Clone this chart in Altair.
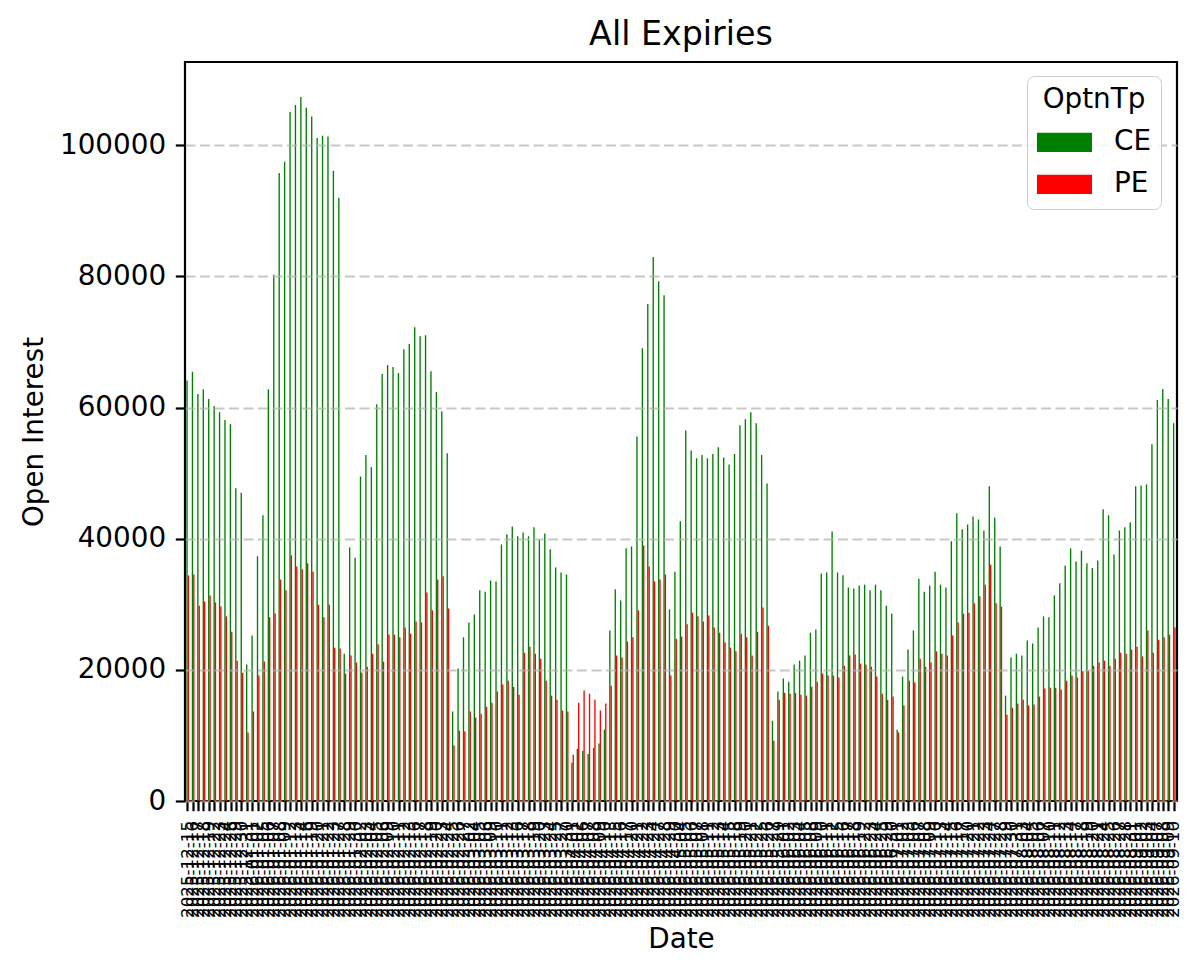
import altair as alt
import pandas as pd

# trading days shown on the x axis, grouped by month
MONTH_DAYS = {
    "2025-12": [15, 16, 17, 18, 19, 22, 23, 24, 26, 29, 30, 31],
    "2026-01": [1, 2, 5, 6, 7, 8, 9, 12, 13, 14, 16, 19, 20, 21, 22, 23, 27, 28, 29, 30],
    "2026-02": [2, 3, 4, 5, 6, 9, 10, 11, 12, 13, 16, 17, 18, 19, 20, 23, 24, 25, 26, 27],
    "2026-03": [2, 4, 5, 6, 9, 10, 11, 12, 13, 16, 17, 18, 19, 20, 23, 24, 25, 27, 30],
    "2026-04": [1, 2, 6, 7, 8, 9, 10, 13, 15, 16, 17, 20, 21, 22, 23, 24, 27, 28, 29, 30],
    "2026-05": [4, 5, 6, 7, 8, 11, 12, 13, 14, 15, 18, 19, 20, 21, 22, 25, 26, 27, 29],
    "2026-06": [1, 2, 3, 4, 5, 8, 9, 10, 11, 12, 15, 16, 17, 18, 19, 22, 23, 24, 25, 29, 30],
    "2026-07": [1, 2, 3, 6, 7, 8, 9, 10, 13, 14, 15, 16, 17, 20, 21, 22, 23, 24, 27, 28, 29, 30, 31],
    "2026-08": [3, 4, 5, 6, 7, 10, 11, 12, 13, 14, 17, 18, 19, 20, 21, 24, 25, 26, 27, 28, 31],
    "2026-09": [1, 2, 3, 4, 7, 8, 9, 10],
}

CE = [
    64130, 65480, 62070, 62780, 61290, 60220, 59300, 58090, 57450, 47710,
    47000, 20830, 25240, 37330, 43580, 62780, 80270, 95770, 97480, 105080,
    106150, 107360, 105720, 104370, 101100, 101460, 101320, 96130, 92000, 22470,
    38680, 37110, 49480, 52760, 50910, 60500, 65130, 66480, 66190, 65270,
    68900, 69680, 72240, 70890, 71030, 65550, 62360, 59440, 53040, 13650,
    20190, 24960, 27230, 28440, 32140, 31920, 33630, 33490, 39100, 40670,
    41880, 40380, 40950, 40380, 41730, 39810, 40810, 38390, 35620, 34840,
    34550, 5830, 7960, 7680, 7180, 8110, 8750, 10880, 26020, 32280,
    30570, 38540, 38820, 55600, 69040, 75790, 82970, 79280, 77140, 29220,
    34980, 42660, 56520, 53470, 52260, 52760, 52260, 52900, 53960, 52400,
    51330, 52900, 57310, 58230, 59300, 57590, 52760, 48420, 12230, 16710,
    18700, 18200, 20830, 21400, 22180, 25670, 26160, 34700, 34840, 41100,
    34840, 34410, 32560, 32420, 32850, 32990, 32140, 32990, 32140, 29790,
    28580, 10880, 18980, 23110, 26020, 33910, 31920, 32850, 34980, 32990,
    32560, 39600, 43870, 41450, 42160, 43370, 42940, 41240, 47990, 43230,
    38820, 16070, 21900, 22470, 22180, 24460, 24030, 26450, 28160, 28010,
    31350, 33200, 35900, 38540, 36540, 38180, 36260, 35550, 36690, 44510,
    43580, 37610, 41240, 41730, 42520, 47990, 48130, 48280, 54390, 61150,
    62850, 61290, 57590,
]

PE = [
    34410, 34550, 29790, 30430, 31350, 30290, 29650, 28160, 25810, 21400,
    19550, 10450, 13650, 19130, 21260, 28010, 28580, 33770, 32140, 37470,
    35760, 35340, 36260, 34980, 29930, 28010, 29930, 23390, 23250, 19410,
    22180, 21120, 19550, 20480, 22470, 23890, 21260, 25380, 25380, 24960,
    26450, 25520, 27370, 27230, 31780, 29080, 33770, 34270, 29360, 8460,
    10740, 10590, 13650, 12730, 13300, 14360, 15000, 16710, 17770, 18340,
    17420, 16210, 22610, 23530, 22470, 21690, 18340, 16070, 15430, 13790,
    13650, 7040, 15000, 16850, 16350, 15430, 13790, 14860, 17560, 22180,
    21900, 24320, 24960, 29080, 38960, 35760, 33490, 33770, 34550, 19130,
    24740, 25100, 26950, 28720, 28160, 27370, 28300, 26450, 25670, 24170,
    23390, 22820, 25520, 24960, 22180, 25810, 29510, 26730, 9170, 15430,
    16490, 16350, 16490, 16210, 16070, 17420, 18200, 19410, 19130, 19130,
    18840, 20620, 22180, 22330, 20970, 20830, 20480, 18980, 16350, 15430,
    15930, 10450, 14580, 18340, 18060, 21690, 20480, 21120, 22820, 22470,
    22180, 25240, 27230, 28580, 28720, 30150, 31210, 32990, 36050, 30150,
    29650, 13150, 14220, 14860, 15430, 14580, 14720, 15930, 17140, 17280,
    17280, 16990, 18340, 19130, 18840, 19770, 19910, 20620, 21120, 21400,
    20620, 21690, 22610, 22470, 23110, 23530, 22040, 26020, 22610, 24600,
    24960, 25380, 26450,
]

TYPES = ["CE", "PE"]
COLORS = ["green", "red"]
Y_TICKS = [0, 20000, 40000, 60000, 80000, 100000]

dates = [f"{m}-{d:02d}" for m, days in MONTH_DAYS.items() for d in days]
n = len(dates)
df = pd.DataFrame({
    "Date": dates + dates,
    "OptnTp": ["CE"] * n + ["PE"] * n,
    "OI": CE + PE,
})

FONT = "DejaVu Sans"
BIG = 27.8

chart = (
    alt.Chart(df)
    .mark_bar()
    .encode(
        x=alt.X(
            "Date:N",
            sort=dates,
            scale=alt.Scale(paddingInner=0, paddingOuter=0),
            axis=alt.Axis(
                title="Date",
                labelAngle=270,
                labelAlign="right",
                labelBaseline="middle",
                labelFontSize=16.7,
                labelOverlap=False,
                labelPadding=9.7,
                tickSize=9.7,
                tickWidth=2.2,
                tickColor="black",
                domain=False,
                grid=False,
                titlePadding=8,
            ),
        ),
        xOffset=alt.XOffset(
            "OptnTp:N", sort=TYPES, scale=alt.Scale(paddingInner=0, paddingOuter=1)
        ),
        y=alt.Y(
            "OI:Q",
            scale=alt.Scale(domain=[0, 112700], nice=False),
            axis=alt.Axis(
                title="Open Interest",
                values=Y_TICKS,
                format="d",
                labelFontSize=BIG,
                labelPadding=9.7,
                tickSize=9.7,
                tickWidth=2.2,
                tickColor="black",
                domain=False,
                grid=True,
                gridColor="#b0b0b0",
                gridOpacity=0.7,
                gridWidth=2.2,
                gridDash=[10, 4.5],
                titlePadding=11,
                zindex=1,
            ),
        ),
        color=alt.Color(
            "OptnTp:N",
            scale=alt.Scale(domain=TYPES, range=COLORS),
            legend=alt.Legend(
                title="OptnTp",
                orient="none",
                legendX=842,
                legendY=14,
                titleFontSize=BIG,
                titleFontWeight="normal",
                titleAnchor="middle",
                titlePadding=1,
                labelFontSize=BIG,
                labelOffset=22,
                symbolType="M-1,-0.35H1V0.35H-1Z",
                symbolSize=3025,
                symbolStrokeWidth=0,
                rowPadding=0,
                padding=10,
                cornerRadius=7,
                strokeColor="#cccccc",
                fillColor="rgba(255,255,255,0.8)",
                zindex=2,
            ),
        ),
    )
    .properties(
        width=992,
        height=739,
        padding={"left": 177, "top": 54, "right": 18, "bottom": 167},
        autosize=alt.AutoSizeParams(type="none"),
        title=alt.TitleParams(
            "All Expiries",
            fontSize=33.3,
            fontWeight="normal",
            anchor="middle",
            offset=10,
            color="black",
        ),
    )
    .configure(font=FONT, background="white")
    .configure_view(stroke="black", strokeWidth=2.2)
    .configure_axis(labelColor="black", titleColor="black", titleFontSize=BIG,
                    titleFontWeight="normal", labelFont=FONT, titleFont=FONT)
    .configure_legend(labelColor="black", titleColor="black", labelFont=FONT, titleFont=FONT)
    .configure_title(font=FONT)
)

chart.save("out.html", embed_options={"renderer": "svg", "actions": False})
